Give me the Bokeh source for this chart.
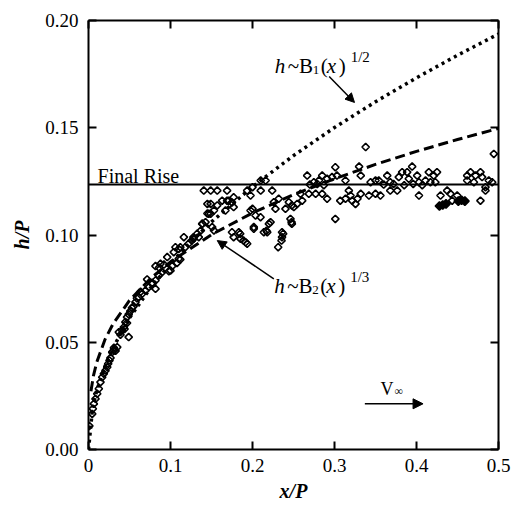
from bokeh.plotting import figure
from bokeh.models import LinearAxis, FixedTicker, Arrow, NormalHead, CustomJSTickFormatter, Range1d
from bokeh.core.properties import value
from bokeh.embed import file_html
from bokeh.resources import INLINE
import math

# ---------------- data ----------------
x_tick_values = [0, 0.1, 0.2, 0.3, 0.4, 0.5]
x_tick_labels = ["0", "0.1", "0.2", "0.3", "0.4", "0.5"]
y_tick_values = [0.0, 0.05, 0.10, 0.15, 0.20]
y_tick_labels = ["0.00", "0.05", "0.10", "0.15", "0.20"]

final_rise = 0.1235

# h ~ B1 x^(1/2) curve
b1_x = [0, 0.005, 0.01, 0.02, 0.03, 0.05, 0.075, 0.1, 0.125, 0.15, 0.2, 0.25, 0.3, 0.35, 0.4, 0.45, 0.5]
b1_y = [0, 0.0194, 0.0274, 0.0387, 0.0475, 0.0613, 0.0750, 0.0866, 0.0969, 0.1061, 0.1225, 0.137, 0.1501, 0.1621, 0.1733, 0.1838, 0.1937]

# h ~ B2 x^(1/3) curve
b2_x = [0.003, 0.006, 0.01, 0.02, 0.03, 0.05, 0.075, 0.1, 0.15, 0.2, 0.25, 0.3, 0.35, 0.4, 0.45, 0.5]
b2_y = [0.0272, 0.0343, 0.0406, 0.0512, 0.0586, 0.0695, 0.0795, 0.0875, 0.1002, 0.1103, 0.1188, 0.1262, 0.1329, 0.1390, 0.1445, 0.1497]

# measured points (open diamonds)
data_x = [0.001, 0.0045, 0.0053, 0.0065, 0.0085, 0.0106, 0.0126, 0.0146, 0.0167, 0.0187, 0.0207, 0.0228, 0.024, 0.0256,
          0.0268, 0.0289, 0.0309, 0.033, 0.031, 0.035, 0.037, 0.039, 0.041, 0.043, 0.044, 0.049, 0.047, 0.045, 0.047,
          0.049, 0.051, 0.053, 0.055, 0.0573, 0.059, 0.0614, 0.0635, 0.0655, 0.0695, 0.0736, 0.0777, 0.0817, 0.0817,
          0.0858, 0.0899, 0.0817, 0.086, 0.092, 0.098, 0.102, 0.108, 0.112, 0.0715, 0.0777, 0.0878, 0.096, 0.1, 0.104,
          0.11, 0.106, 0.11, 0.118, 0.122, 0.126, 0.128, 0.1325, 0.137, 0.139, 0.1427, 0.145, 0.149, 0.153, 0.157,
          0.1406, 0.149, 0.157, 0.169, 0.149, 0.163, 0.169, 0.177, 0.1935, 0.2, 0.153, 0.175, 0.177, 0.185, 0.189,
          0.1935, 0.2016, 0.2, 0.145, 0.167, 0.175, 0.171, 0.177, 0.1976, 0.21, 0.21, 0.1467, 0.1386, 0.1508, 0.1833,
          0.1854, 0.1915, 0.1976, 0.2037, 0.2098, 0.2016, 0.218, 0.22, 0.1163, 0.128, 0.1345, 0.112,
          0.216, 0.224, 0.2667, 0.285, 0.301, 0.33, 0.338, 0.301, 0.2748, 0.281, 0.291, 0.297, 0.303, 0.3134, 0.332,
          0.344, 0.35, 0.277, 0.285, 0.291, 0.307, 0.3134, 0.3175, 0.3195, 0.3215, 0.3256, 0.332, 0.342, 0.35, 0.328,
          0.2585, 0.2606, 0.2545, 0.2504, 0.2402, 0.228, 0.226, 0.232, 0.2443, 0.248, 0.2463, 0.248, 0.222, 0.2138,
          0.236, 0.236, 0.2687, 0.2313, 0.2354, 0.2374, 0.217, 0.2476, 0.27, 0.279, 0.287,
          0.3947, 0.4943, 0.354, 0.3643, 0.368, 0.3784, 0.3825, 0.3886, 0.3906, 0.4008, 0.403, 0.411, 0.415, 0.421,
          0.425, 0.423, 0.417, 0.4618, 0.4659, 0.472, 0.478, 0.48, 0.4618, 0.47, 0.4882, 0.4923, 0.4841, 0.356, 0.368,
          0.3765, 0.403, 0.4293, 0.4374, 0.4415, 0.4435, 0.4496, 0.478, 0.4841, 0.36, 0.372, 0.385, 0.396, 0.407]
data_y = [0.011, 0.0166, 0.019, 0.0213, 0.0236, 0.026, 0.0283, 0.0314, 0.0337, 0.0353, 0.0368, 0.0384, 0.04, 0.0415,
          0.0427, 0.0454, 0.0462, 0.046, 0.0474, 0.0477, 0.0547, 0.0535, 0.0555, 0.057, 0.0562, 0.0524, 0.059, 0.0594, 0.0617,
          0.063, 0.0645, 0.066, 0.0668, 0.0687, 0.0705, 0.071, 0.0735, 0.0726, 0.0741, 0.0757, 0.0772, 0.0749, 0.0788,
          0.0811, 0.0827, 0.0855, 0.0848, 0.0862, 0.0831, 0.0855, 0.087, 0.0886, 0.0793, 0.0777, 0.0866, 0.0897, 0.0834, 0.092,
          0.0889, 0.0943, 0.0935, 0.0943, 0.0959, 0.0974, 0.099, 0.1006, 0.1021, 0.1052, 0.106, 0.11, 0.1099, 0.1114, 0.1138,
          0.1207, 0.1207, 0.1207, 0.1207, 0.1145, 0.116, 0.116, 0.1176, 0.1207, 0.1223, 0.1021, 0.1013, 0.099, 0.1006, 0.0974,
          0.0959, 0.1037, 0.1122, 0.1145, 0.1114, 0.1152, 0.116, 0.113, 0.1184, 0.1207, 0.1254, 0.1099, 0.1052, 0.1037, 0.1013,
          0.0982, 0.0966, 0.1114, 0.1091, 0.1083, 0.1029, 0.1013, 0.1052, 0.099, 0.0982, 0.099, 0.0943,
          0.1254, 0.1207, 0.1277, 0.1277, 0.1316, 0.1319, 0.141, 0.1075, 0.1246, 0.1254, 0.1262, 0.127, 0.1277, 0.1254, 0.1277,
          0.1246, 0.1254, 0.1192, 0.1192, 0.1169, 0.116, 0.1169, 0.1207, 0.1184, 0.116, 0.1145, 0.1192, 0.1184, 0.1192, 0.1169,
          0.1192, 0.116, 0.1145, 0.113, 0.1122, 0.1122, 0.1153, 0.1169, 0.1153, 0.1138, 0.1075, 0.1052, 0.106, 0.1013,
          0.1013, 0.099, 0.1192, 0.0943, 0.0974, 0.1006, 0.102, 0.106, 0.1235, 0.1238, 0.1232,
          0.1319, 0.1378, 0.1254, 0.1277, 0.1246, 0.127, 0.1293, 0.1293, 0.1262, 0.1277, 0.1246, 0.1254, 0.1293, 0.1277,
          0.1293, 0.1246, 0.1246, 0.1277, 0.1293, 0.1277, 0.1293, 0.127, 0.1254, 0.1246, 0.1254, 0.1246, 0.1223, 0.1184, 0.1207,
          0.1207, 0.1184, 0.1184, 0.1207, 0.1192, 0.116, 0.1184, 0.116, 0.1207, 0.1235, 0.1238, 0.1232, 0.1238, 0.1232]

# measured points drawn filled
filled_x = [0.428, 0.432, 0.436, 0.451, 0.455, 0.459]
filled_y = [0.1135, 0.1140, 0.1145, 0.1158, 0.1162, 0.1158]

# ---------------- figure ----------------
FONT = "Liberation Serif"
X0, X1, Y0, Y1 = 0.0, 0.5, 0.0, 0.2
FW, FH = 410, 429
dxp = (X1 - X0) / FW   # data per pixel
dyp = (Y1 - Y0) / FH

p = figure(width=512, height=508, output_backend="svg", toolbar_location=None,
           x_range=Range1d(X0, X1), y_range=Range1d(Y0, Y1),
           min_border_left=88, min_border_right=14, min_border_top=20, min_border_bottom=59,
           background_fill_color="white", border_fill_color="white")
p.grid.visible = False
p.outline_line_color = None

x_overrides = {v: s for v, s in zip(x_tick_values, x_tick_labels)}
y_overrides = {v: s for v, s in zip(y_tick_values, y_tick_labels)}

def style_axis(ax):
    ax.axis_line_width = 2
    ax.axis_line_color = "black"
    ax.major_tick_line_width = 2
    ax.major_tick_line_color = "black"
    ax.major_tick_in = 8
    ax.major_tick_out = 0
    ax.minor_tick_line_color = None
    ax.major_label_text_font = FONT
    ax.major_label_text_font_size = "19px"
    ax.major_label_text_color = "black"
    ax.axis_label_text_font = FONT
    ax.axis_label_text_font_size = "20px"
    ax.axis_label_text_font_style = "bold italic"
    ax.axis_label_text_color = "black"

xa = p.xaxis[0]
xa.ticker = FixedTicker(ticks=x_tick_values)
xa.major_label_overrides = x_overrides
xa.axis_label = "x/P"
style_axis(xa)
xa.major_label_standoff = 9
xa.axis_label_standoff = 5

ya = p.yaxis[0]
ya.ticker = FixedTicker(ticks=y_tick_values)
ya.major_label_overrides = y_overrides
ya.axis_label = "h/P"
style_axis(ya)
ya.major_label_standoff = 10
ya.axis_label_standoff = 9

blank = CustomJSTickFormatter(code="return ''")
top = LinearAxis(ticker=FixedTicker(ticks=x_tick_values), formatter=blank)
style_axis(top)
top.major_label_text_font_size = "1px"
top.major_label_standoff = 0
right = LinearAxis(ticker=FixedTicker(ticks=y_tick_values), formatter=blank)
style_axis(right)
right.major_label_text_font_size = "1px"
right.major_label_standoff = 0
p.add_layout(top, "above")
p.add_layout(right, "right")

# curves
p.line([X0, X1], [final_rise, final_rise], line_color="black", line_width=2)
p.line(b1_x, b1_y, line_color="black", line_width=3.5, line_dash="3 4")
p.line(b2_x, b2_y, line_color="black", line_width=3, line_dash="10 5")

# data
p.scatter(data_x, data_y, marker="square", size=5.2, angle=math.pi / 4,
          fill_color="white", fill_alpha=0.0, line_color="black", line_width=1.6)
p.scatter(filled_x, filled_y, marker="square", size=6, angle=math.pi / 4,
          fill_color="black", line_color="black", line_width=1.5)

# text helpers
def txt(x, y, s, dx=0, dy=0, size=18, style="normal"):
    p.text(x=[x + dx * dxp], y=[y + dy * dyp], text=[s],
           text_font=value(FONT), text_font_size=f"{size}px", text_font_style=style,
           text_color="black", text_align="left", text_baseline="alphabetic")

def formula(x, y, sub, sup):
    txt(x, y, "h", 0, 0, 21, "italic")
    txt(x, y, "~B", 13, 0, 21)
    txt(x, y, sub, 38, -4, 13)
    txt(x, y, "(", 46, 0, 21)
    txt(x, y, "x", 52, 0, 21, "italic")
    txt(x, y, ")", 64, 0, 21)
    txt(x, y, sup, 76, 9, 15)

formula(0.227, 0.179, "1", "1/2")
formula(0.2264, 0.0762, "2", "1/3")

txt(0.011, 0.1277, "Final Rise", size=20)
txt(0.356, 0.0284, "V", size=18)
txt(0.356, 0.0284, "\u221e", dx=14, dy=-2, size=12)

# arrows
p.add_layout(Arrow(end=NormalHead(size=9, fill_color="black", line_color="black"),
                   x_start=0.2935, y_start=0.1739, x_end=0.3244, y_end=0.1618,
                   line_color="black", line_width=1.5))
p.add_layout(Arrow(end=NormalHead(size=9, fill_color="black", line_color="black"),
                   x_start=0.226, y_start=0.0796, x_end=0.157, y_end=0.0974,
                   line_color="black", line_width=1.5))
p.add_layout(Arrow(end=NormalHead(size=10, fill_color="black", line_color="black"),
                   x_start=0.337, y_start=0.0213, x_end=0.408, y_end=0.0213,
                   line_color="black", line_width=1.5))

open("out.html", "w").write(file_html(p, INLINE))
